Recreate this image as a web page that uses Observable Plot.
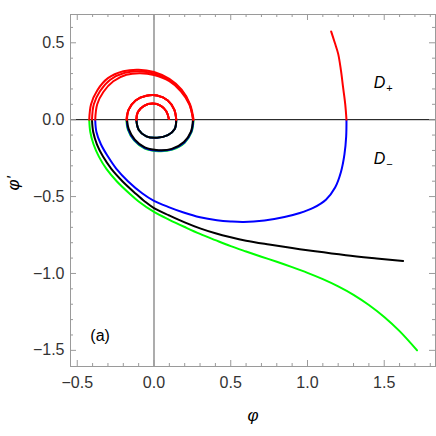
<!DOCTYPE html>
<html>
<head>
<meta charset="utf-8">
<script src="https://cdn.jsdelivr.net/npm/d3@7"></script>
<script src="https://cdn.jsdelivr.net/npm/@observablehq/plot@0.6"></script>
<style>
  html, body { margin: 0; padding: 0; background: #fff; }
</style>
</head>
<body>
<div id="chart"></div>
<script>
// ---- Data ----
// Axis ticks
const xMajor = [-0.5, 0, 0.5, 1, 1.5];
const xMinor = [-0.4, -0.3, -0.2, -0.1, 0.1, 0.2, 0.3, 0.4, 0.6, 0.7, 0.8, 0.9, 1.1, 1.2, 1.3, 1.4, 1.6, 1.7, 1.8];
const yMajor = [-1.5, -1, -0.5, 0, 0.5];
const yMinor = [-1.4, -1.3, -1.2, -1.1, -0.9, -0.8, -0.7, -0.6, -0.4, -0.3, -0.2, -0.1, 0.1, 0.2, 0.3, 0.4, 0.6];

// Shared inner spiral (all three trajectories converge here)
const innerX = [-0.165, -0.12, -0.05, 0.02, 0.09, 0.132, 0.145, 0.135, 0.09, 0.02, -0.05, -0.1, -0.115, -0.105, -0.065, -0.01, 0.045, 0.08, 0.097];
const innerY = [0.065, 0.125, 0.155, 0.157, 0.125, 0.065, 0, -0.06, -0.1, -0.117, -0.108, -0.065, 0, 0.05, 0.09, 0.105, 0.09, 0.055, 0.005];

// Trajectory 1 (blue lower parts)
const blueX = [1.154, 1.178, 1.2, 1.218, 1.232, 1.246, 1.254, 1.252, 1.241, 1.218, 1.18, 1.12, 1.04, 0.95, 0.85, 0.72, 0.584, 0.5, 0.41, 0.3, 0.193, 0.1, 0, -0.075, -0.17, -0.245, -0.3, -0.346, -0.375, -0.383,
  -0.37, -0.33, -0.265, -0.18, -0.09, 0, 0.1, 0.175, 0.23, 0.256,
  0.243, 0.198, 0.118, 0.03, -0.06, -0.128, -0.168, -0.178];
const blueY = [0.574, 0.5, 0.428, 0.32, 0.21, 0.1, 0, -0.11, -0.224, -0.34, -0.441, -0.52, -0.572, -0.607, -0.633, -0.655, -0.665, -0.662, -0.654, -0.635, -0.604, -0.57, -0.528, -0.48, -0.4, -0.32, -0.24, -0.16, -0.08, 0,
  0.1, 0.18, 0.25, 0.292, 0.302, 0.29, 0.25, 0.185, 0.1, 0,
  -0.08, -0.148, -0.193, -0.202, -0.184, -0.133, -0.063, 0];

// Trajectory 2 (black lower parts)
const blackX = [1.623, 1.45, 1.25, 1.05, 0.9, 0.75, 0.6, 0.5, 0.4, 0.3, 0.2, 0.1, 0, -0.06, -0.12, -0.206, -0.278, -0.332, -0.372, -0.396, -0.404,
  -0.392, -0.352, -0.285, -0.19, -0.1, 0, 0.1, 0.178, 0.232, 0.254,
  0.24, 0.195, 0.115, 0.03, -0.06, -0.125, -0.165, -0.176];
const blackY = [-0.919, -0.902, -0.881, -0.856, -0.835, -0.812, -0.787, -0.765, -0.739, -0.707, -0.668, -0.623, -0.575, -0.532, -0.48, -0.4, -0.32, -0.24, -0.16, -0.08, 0,
  0.1, 0.185, 0.26, 0.305, 0.315, 0.3, 0.257, 0.19, 0.1, 0,
  -0.08, -0.145, -0.19, -0.198, -0.18, -0.13, -0.06, 0];

// Trajectory 3 (green lower parts)
const greenX = [1.714, 1.6, 1.5, 1.4, 1.3, 1.2, 1.1, 1.0, 0.9, 0.8, 0.7, 0.6, 0.5, 0.4, 0.3, 0.2, 0.1, 0, -0.1, -0.16, -0.243, -0.31, -0.359, -0.394, -0.415, -0.422,
  -0.41, -0.37, -0.3, -0.2, -0.1, 0, 0.1, 0.18, 0.235, 0.258,
  0.245, 0.2, 0.12, 0.03, -0.06, -0.13, -0.17, -0.18];
const greenY = [-1.5, -1.375, -1.283, -1.205, -1.139, -1.084, -1.037, -0.996, -0.959, -0.924, -0.891, -0.857, -0.822, -0.783, -0.743, -0.698, -0.651, -0.6, -0.532, -0.48, -0.4, -0.32, -0.24, -0.16, -0.08, 0,
  0.1, 0.19, 0.27, 0.315, 0.325, 0.31, 0.265, 0.195, 0.1, 0,
  -0.08, -0.15, -0.195, -0.205, -0.188, -0.135, -0.065, 0];

// Annotations
const regionNames = ["D", "D"];
const regionSubs = ["+", "\u2212"];
const regionX = [1.469, 1.469];
const regionY = [0.209, -0.29];
const panelTags = ["(a)"];
const panelX = [-0.415];
const panelY = [-1.44];
const xLabel = "\u03c6";
const yLabel = "\u03c6'";

// ---- Build runs split by sign of φ' ----
function buildRuns(xs, ys, name, color) {
  const X = xs.concat(innerX), Y = ys.concat(innerY);
  const out = [];
  let run = 0, curSign = null;
  for (let i = 0; i < X.length - 1; i++) {
    const sign = (Y[i] + Y[i + 1]) / 2 >= 0 ? "up" : "down";
    if (sign !== curSign) {
      run++; curSign = sign;
      out.push({x: X[i], y: Y[i], run: name + run, sign, color});
    }
    out.push({x: X[i + 1], y: Y[i + 1], run: name + run, sign, color});
  }
  return out;
}
const green = buildRuns(greenX, greenY, "g", "#00ff00");
const blue = buildRuns(blueX, blueY, "b", "#0000ff");
const black = buildRuns(blackX, blackY, "k", "#000000");
const allRuns = green.concat(blue, black);

const W = 436, H = 436, mL = 70, mR = 1, mT = 14, mB = 70;
const innerW = W - mL - mR, innerH = H - mT - mB;
const frameColor = "#9a9a9a";
const lw = 2;
const curve = "catmull-rom";

const chart = Plot.plot({
  width: W, height: H,
  marginLeft: mL, marginRight: mR, marginTop: mT, marginBottom: mB,
  style: {fontFamily: "'Liberation Sans', Arial, sans-serif", fontSize: "16px", color: "#333", background: "#fff"},
  x: {domain: [-0.544, 1.834], ticks: xMajor, tickSize: 0, tickPadding: 10, tickFormat: d3.format(".1f"), label: null},
  y: {domain: [-1.605, 0.684], ticks: yMajor, tickSize: 0, tickPadding: 6, tickFormat: d3.format(".1f"), label: null},
  marks: [
    Plot.ruleX([0], {stroke: "#808080", strokeWidth: 1.3}),
    Plot.ruleY([0], {stroke: "#000", strokeWidth: 1}),
    // lower (φ' < 0) parts in each trajectory's colour
    Plot.line(green.filter(d => d.sign === "down"), {x: "x", y: "y", z: "run", stroke: "#00ff00", strokeWidth: lw, curve}),
    Plot.line(blue.filter(d => d.sign === "down"), {x: "x", y: "y", z: "run", stroke: "#0000ff", strokeWidth: lw, curve}),
    Plot.line(black.filter(d => d.sign === "down"), {x: "x", y: "y", z: "run", stroke: "#000000", strokeWidth: lw, curve}),
    // upper (φ' > 0) parts in red
    Plot.line(allRuns.filter(d => d.sign === "up"), {x: "x", y: "y", z: "run", stroke: "#ff0000", strokeWidth: lw, curve}),
    // frame and inward ticks
    Plot.frame({stroke: frameColor, strokeWidth: 1}),
    Plot.tickX(xMajor, {x: d => d, insetTop: innerH - 6, stroke: frameColor}),
    Plot.tickX(xMinor, {x: d => d, insetTop: innerH - 3, stroke: frameColor}),
    Plot.tickX(xMajor, {x: d => d, insetBottom: innerH - 6, stroke: frameColor}),
    Plot.tickX(xMinor, {x: d => d, insetBottom: innerH - 3, stroke: frameColor}),
    Plot.tickY(yMajor, {y: d => d, insetRight: innerW - 6, stroke: frameColor}),
    Plot.tickY(yMinor, {y: d => d, insetRight: innerW - 3, stroke: frameColor}),
    Plot.tickY(yMajor, {y: d => d, insetLeft: innerW - 6, stroke: frameColor}),
    Plot.tickY(yMinor, {y: d => d, insetLeft: innerW - 3, stroke: frameColor}),
    // region labels
    Plot.text(regionNames, {x: (d, i) => regionX[i], y: (d, i) => regionY[i], text: d => d, fontStyle: "italic", fontSize: 16, lineAnchor: "bottom", textAnchor: "middle", fill: "#000"}),
    Plot.text(regionSubs, {x: (d, i) => regionX[i], y: (d, i) => regionY[i], text: d => d, fontSize: 11, lineAnchor: "bottom", textAnchor: "middle", dx: 10, dy: 4, fill: "#000"}),
    Plot.text(panelTags, {x: (d, i) => panelX[i], y: (d, i) => panelY[i], text: d => d, fontSize: 16, lineAnchor: "bottom", textAnchor: "start", fill: "#000"}),
    // axis labels
    Plot.text([xLabel], {frameAnchor: "bottom", text: d => d, dy: 49, lineAnchor: "middle", fontStyle: "italic", fontSize: 17, fill: "#000"}),
    Plot.text([yLabel], {frameAnchor: "left", text: d => d, dx: -57, rotate: -90, lineAnchor: "middle", fontStyle: "italic", fontSize: 17, fill: "#000"})
  ]
});
document.getElementById("chart").appendChild(chart);
</script>
</body>
</html>
